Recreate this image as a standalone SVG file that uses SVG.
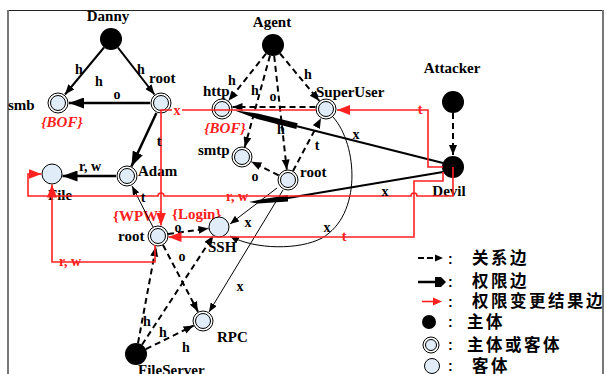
<svg xmlns="http://www.w3.org/2000/svg" width="606" height="374" viewBox="0 0 606 374">
<defs>
<marker id="ah" markerUnits="userSpaceOnUse" markerWidth="10" markerHeight="8" refX="10" refY="4" orient="auto"><path d="M0,0 L10,4 L0,8 z" fill="#000"/></marker>
<marker id="ahs" markerUnits="userSpaceOnUse" markerWidth="9" markerHeight="7" refX="9" refY="3.5" orient="auto"><path d="M0,0 L9,3.5 L0,7 z" fill="#000"/></marker>
<marker id="ahp" markerUnits="userSpaceOnUse" markerWidth="15" markerHeight="11" refX="15" refY="5.5" orient="auto"><path d="M0,0 L15,5.5 L0,11 z" fill="#000"/></marker>
<marker id="ahr" markerUnits="userSpaceOnUse" markerWidth="13" markerHeight="10" refX="13" refY="5" orient="auto"><path d="M0,0 L13,5 L0,10 z" fill="#ff2020"/></marker>
</defs>
<style>
.lbl{font-family:"Liberation Serif","Times New Roman",serif;font-size:15px;font-weight:bold;fill:#000}
.el{font-family:"Liberation Serif","Times New Roman",serif;font-size:14px;font-weight:bold;fill:#000;text-anchor:middle}
.rl{font-family:"Liberation Serif","Times New Roman",serif;font-size:14px;font-weight:bold;fill:#ff2020;text-anchor:middle}
.rb{font-family:"Liberation Serif","Times New Roman",serif;font-size:15px;font-weight:bold;fill:#ff2020}
.subj{fill:#000}
.outer{fill:#fff;stroke:#000;stroke-width:1}
.inner{fill:#e0edf8;stroke:#000;stroke-width:1}
.obj{fill:#e0edf8;stroke:#000;stroke-width:1}
.rel{stroke:#000;stroke-width:2;stroke-dasharray:6 4;fill:none;marker-end:url(#ah)}
.sol{stroke:#000;stroke-width:2;fill:none;marker-end:url(#ah)}
.perm{stroke:#000;stroke-width:2.5;fill:none;marker-end:url(#ahp)}
.thin{stroke:#000;stroke-width:1;fill:none;marker-end:url(#ahs)}
.red{stroke:#ff2020;stroke-width:1.6;fill:none;marker-end:url(#ahr)}
.leg{font-family:"Noto Sans CJK SC",sans-serif;font-size:16.5px;font-weight:bold;letter-spacing:2.5px;fill:#000}
.col{font-family:"Liberation Sans",Arial,sans-serif;font-size:14px;font-weight:bold;fill:#000}
</style>
<rect width="606" height="374" fill="#fff"/>
<g id="frame">
<line x1="8" y1="10.5" x2="603" y2="10.5" stroke="#222" stroke-width="1"/>
<line x1="8" y1="10" x2="8" y2="374" stroke="#777" stroke-width="2"/>
<line x1="603" y1="10" x2="603" y2="374" stroke="#777" stroke-width="2"/>
</g>

<g id="n-danny"><circle class="subj" cx="111" cy="39" r="11"/><text class="lbl" x="108" y="21" text-anchor="middle">Danny</text></g>
<g id="n-smb"><circle class="outer" cx="58" cy="103" r="10"/><circle class="inner" cx="58" cy="103" r="7.5"/><text class="lbl" x="8" y="110">smb</text><text class="rb" x="62" y="127" text-anchor="middle" font-style="italic">{BOF}</text></g>
<g id="n-root1"><circle class="outer" cx="161" cy="103" r="10"/><circle class="inner" cx="161" cy="103" r="7.5"/><text class="lbl" x="149" y="83">root</text></g>
<g id="n-agent"><circle class="subj" cx="273" cy="45" r="11"/><text class="lbl" x="272" y="27" text-anchor="middle">Agent</text></g>
<g id="n-http"><circle class="outer" cx="222" cy="109" r="10"/><circle class="inner" cx="222" cy="109" r="7.5"/><text class="lbl" x="203" y="96">http</text><text class="rb" x="225" y="133" text-anchor="middle" font-style="italic">{BOF}</text></g>
<g id="n-superuser"><circle class="outer" cx="326" cy="109" r="10"/><circle class="inner" cx="326" cy="109" r="7.5"/><text class="lbl" x="316" y="97">SuperUser</text></g>
<g id="n-smtp"><circle class="outer" cx="242" cy="157" r="10"/><circle class="inner" cx="242" cy="157" r="7.5"/><text class="lbl" x="198" y="155">smtp</text></g>
<g id="n-root2"><circle class="outer" cx="288" cy="180" r="10"/><circle class="inner" cx="288" cy="180" r="7.5"/><text class="lbl" x="300" y="177">root</text></g>
<g id="n-attacker"><circle class="subj" cx="453" cy="102" r="11"/><text class="lbl" x="452" y="73" text-anchor="middle">Attacker</text></g>
<g id="n-devil"><circle class="subj" cx="453" cy="167" r="11"/><text class="lbl" x="449" y="196" text-anchor="middle">Devil</text></g>
<g id="n-file"><circle class="obj" cx="52" cy="174" r="10"/><text class="lbl" x="48" y="200">File</text></g>
<g id="n-adam"><circle class="outer" cx="127" cy="176" r="10"/><circle class="inner" cx="127" cy="176" r="7.5"/><text class="lbl" x="138" y="176">Adam</text></g>
<g id="n-root3"><circle class="outer" cx="158" cy="236" r="10"/><circle class="inner" cx="158" cy="236" r="7.5"/><text class="lbl" x="118" y="241">root</text><text class="rb" x="113" y="221">{WPW}</text><text class="rb" x="172" y="219">{Login}</text></g>
<g id="n-ssh"><circle class="obj" cx="219" cy="227" r="10"/><text class="lbl" x="208" y="252">SSH</text></g>
<g id="n-rpc"><circle class="outer" cx="203" cy="321" r="10"/><circle class="inner" cx="203" cy="321" r="7.5"/><text class="lbl" x="217" y="342">RPC</text></g>
<g id="n-fileserver"><circle class="subj" cx="136" cy="354" r="11"/><text class="lbl" x="138" y="375">FileServer</text></g>

<g id="connectors">
<path class="sol" d="M104,47.5 L65,94.5"/>
<path class="sol" d="M118,47.7 L154.5,94.5"/>
<path class="perm" d="M150,103 L69,103"/>
<path class="perm" d="M156.4,113 L131.4,166.5"/>
<path class="perm" d="M116,176 L62.5,176"/>
<path d="M443,163 L297,126.2" stroke="#000" stroke-width="2.2" fill="none"/>
<polygon points="234,110.2 258.7,113.7 297.7,123.3 296.3,129.1 257.3,118.9" fill="#000"/>
<path d="M443,172 L288,198" stroke="#000" stroke-width="2.2" fill="none"/>
<polygon points="288,195 288,201.5 258,203.5 249,202 258,200" fill="#000"/>
<path class="thin" d="M277,188 L230,224"/>
<path class="thin" d="M333,117 C358,145 362,215 322,238 C300,250 255,250 230,236"/>
<path class="thin" d="M283,190 L209,312"/>
<path class="thin" d="M153,227 L132,186"/>
<path class="rel" d="M266,53.6 L228.5,100.8"/>
<path class="rel" d="M270,55.6 L244.8,146.9"/>
<path class="rel" d="M274.2,55.9 L286.8,169.6"/>
<path class="rel" d="M280,53.5 L319.3,100.9"/>
<path class="rel" d="M315.5,107 L232.5,107"/>
<path class="rel" d="M278.6,175.3 L251.4,161.7"/>
<path class="rel" d="M293,171 L321,118.3"/>
<path class="rel" d="M453,113 L453,155"/>
<path class="rel" d="M168,234 L208.5,228.5"/>
<path class="rel" d="M163,245 L198,311.7"/>
<path class="rel" d="M138,343.2 L156,246.5"/>
<path class="rel" d="M142,344.8 L213.3,235.8"/>
<path class="rel" d="M145.9,349.1 L193.6,325.6"/>
<path class="red" d="M443,167 H428 V110 H337"/>
<path class="red" d="M316,110 H161 V225.5"/>
<path class="red" d="M453,167 V196 H417 A3,3 0 0 0 411,196 H164 A3,3 0 0 0 158,196 H28 V174 H41.5"/>
<path class="red" d="M443,172 V181 H414 V237 H168.5"/>
<path class="red" d="M155,245 V262 H52 V184.5"/>
<text class="el" x="79" y="74">h</text>
<text class="el" x="99" y="86">h</text>
<text class="el" x="141" y="74">h</text>
<text class="el" x="117" y="99">o</text>
<text class="el" x="159" y="146">t</text>
<text class="el" x="90" y="171">r, w</text>
<text class="el" x="143" y="202">t</text>
<text class="el" x="232" y="85">h</text>
<text class="el" x="255" y="95">h</text>
<text class="el" x="273" y="101">o</text>
<text class="el" x="308" y="79">h</text>
<text class="el" x="281" y="134">h</text>
<text class="el" x="317" y="150">t</text>
<text class="el" x="255" y="181">o</text>
<text class="el" x="356" y="139">x</text>
<text class="el" x="385" y="196">x</text>
<text class="el" x="248" y="227">x</text>
<text class="el" x="327" y="232">x</text>
<text class="el" x="178" y="232">o</text>
<text class="el" x="182" y="261">o</text>
<text class="el" x="240" y="291">x</text>
<text class="el" x="147" y="326">h</text>
<text class="el" x="163" y="337">h</text>
<text class="el" x="186" y="352">h</text>
<rect x="172" y="106" width="10" height="10" fill="#fff"/>
<text class="rl" x="177" y="115">x</text>
<text class="rl" x="420" y="114">t</text>
<text class="rl" x="237" y="201">r, w</text>
<text class="rl" x="344" y="241">t</text>
<text class="rl" x="70" y="266">r, w</text>
</g>

<g id="legend">
<path d="M418,258 H436" stroke="#000" stroke-width="2" stroke-dasharray="6 3" fill="none"/>
<path d="M435,254.5 L443,258 L435,261.5 z" fill="#000"/>
<text class="col" x="448" y="264">:</text>
<text class="leg" x="472" y="264">关系边</text>
<path d="M418,282 H436" stroke="#000" stroke-width="2.5" fill="none"/>
<path d="M435,277 L441,277 L446,282 L441,287 L435,287 z" fill="#000"/>
<text class="col" x="448" y="287">:</text>
<text class="leg" x="472" y="287">权限边</text>
<path d="M422,301.5 H434" stroke="#ff2020" stroke-width="1.6" fill="none"/>
<path d="M433,297.5 L442,301.5 L433,305.5 z" fill="#ff2020"/>
<text class="col" x="448" y="307">:</text>
<text class="leg" x="472" y="307">权限变更结果边</text>
<circle cx="429" cy="322" r="7" fill="#000"/>
<text class="col" x="448" y="327">:</text>
<text class="leg" x="467" y="328">主体</text>
<circle class="outer" cx="431" cy="345" r="8"/><circle class="inner" cx="431" cy="345" r="5.5"/>
<text class="col" x="448" y="350">:</text>
<text class="leg" x="467" y="351">主体或客体</text>
<circle class="obj" cx="432" cy="366" r="7.5"/>
<text class="col" x="448" y="371">:</text>
<text class="leg" x="472" y="372">客体</text>
</g>
</svg>
